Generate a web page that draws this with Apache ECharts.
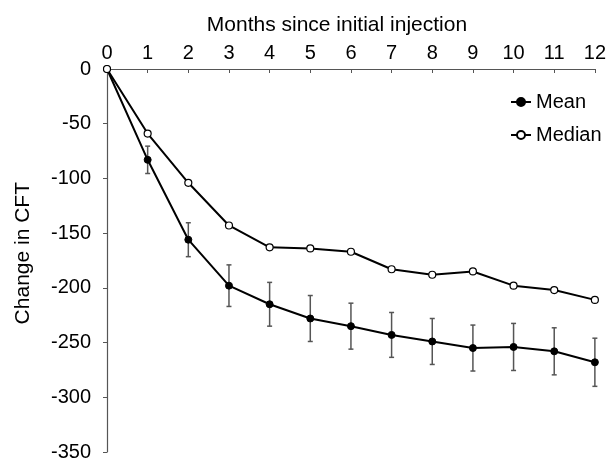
<!DOCTYPE html>
<html>
<head>
<meta charset="utf-8">
<script src="https://cdn.jsdelivr.net/npm/echarts@6/dist/echarts.min.js"></script>
<style>
  html, body { margin: 0; padding: 0; background: #fff; }
  #chart { width: 609px; height: 462px; }
</style>
</head>
<body>
<div id="chart"></div>
<script>
// months since injection
const months = [0, 1, 2, 3, 4, 5, 6, 7, 8, 9, 10, 11, 12];
// change in CFT
const meanValues = [0, -83, -156, -198, -215, -228, -235, -243, -249, -255, -254, -258, -268];
const medianValues = [0, -59, -104, -143, -163, -164, -167, -183, -188, -185, -198, -202, -211];
// error bar half-width (mean only, month 0 has none)
const meanError = [0, 12.5, 15.5, 19, 20, 21, 21, 20.5, 21, 21, 21.5, 21.5, 22];

const font = "Liberation Sans, Arial, sans-serif";

function pairs(ys) {
  return months.map((m, i) => [m, ys[i]]);
}

const errData = months
  .map((m, i) => [m, meanValues[i] + meanError[i], meanValues[i] - meanError[i]])
  .filter((d) => d[1] !== d[2]);

const option = {
  animation: false,
  textStyle: { fontFamily: font },
  grid: { left: 107, right: 13, top: 69, bottom: 8 },
  legend: {
    orient: "vertical",
    left: 505,
    top: 87,
    itemGap: 13,
    itemWidth: 20,
    itemHeight: 10,
    data: ["Mean", "Median"],
    textStyle: { fontSize: 20, color: "#000", fontFamily: font },
  },
  graphic: [
    {
      type: "text",
      left: 13,
      top: 182,
      rotation: Math.PI / 2,
      style: { text: "Change in CFT", fill: "#000", font: "21px " + font },
    },
  ],
  xAxis: {
    type: "value",
    position: "top",
    min: 0,
    max: 12,
    interval: 1,
    name: "Months since initial injection",
    nameLocation: "middle",
    nameGap: 33,
    nameTextStyle: { fontSize: 21, color: "#000", fontFamily: font, padding: [0, 28, 0, 0] },
    axisLine: { onZero: false, lineStyle: { color: "#555", width: 1.2 } },
    axisTick: { inside: true, length: 4, lineStyle: { color: "#555" } },
    axisLabel: { fontSize: 20, color: "#000", margin: 6, fontFamily: font },
    splitLine: { show: false },
  },
  yAxis: {
    type: "value",
    min: -350,
    max: 0,
    interval: 50,
    axisLine: { show: true, onZero: false, lineStyle: { color: "#555", width: 1.2 } },
    axisTick: { show: true, length: 4, lineStyle: { color: "#555" } },
    axisLabel: { fontSize: 20, color: "#000", margin: 16, fontFamily: font },
    splitLine: { show: false },
  },
  series: [
    {
      name: "Mean",
      type: "line",
      data: pairs(meanValues),
      symbol: "circle",
      symbolSize: 7,
      lineStyle: { color: "#000", width: 2 },
      itemStyle: { color: "#000", borderColor: "#000", borderWidth: 1 },
      z: 3,
    },
    {
      name: "Median",
      type: "line",
      data: pairs(medianValues),
      symbol: "circle",
      symbolSize: 7,
      lineStyle: { color: "#000", width: 2 },
      itemStyle: { color: "#fff", borderColor: "#000", borderWidth: 1.2 },
      z: 4,
    },
    {
      type: "custom",
      name: "err",
      data: errData,
      z: 2,
      renderItem: function (params, api) {
        const top = api.coord([api.value(0), api.value(1)]);
        const bot = api.coord([api.value(0), api.value(2)]);
        const cap = 2.5;
        const style = { stroke: "#555", lineWidth: 1.5 };
        return {
          type: "group",
          children: [
            { type: "line", shape: { x1: top[0], y1: top[1], x2: bot[0], y2: bot[1] }, style: style },
            { type: "line", shape: { x1: top[0] - cap, y1: top[1], x2: top[0] + cap, y2: top[1] }, style: style },
            { type: "line", shape: { x1: bot[0] - cap, y1: bot[1], x2: bot[0] + cap, y2: bot[1] }, style: style },
          ],
        };
      },
    },
  ],
};

const chart = echarts.init(document.getElementById("chart"));
chart.setOption(option);
</script>
</body>
</html>
